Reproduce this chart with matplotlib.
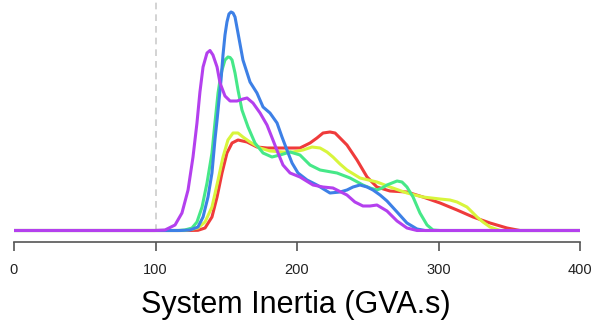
import numpy as np
import matplotlib
matplotlib.use("Agg")
import matplotlib.pyplot as plt

plt.rcParams['font.family'] = ['Liberation Sans', 'DejaVu Sans']

# density curves, x in GVA.s, y in units of 1e-3
x_red = [0, 123.0, 130.0, 135.0, 139.9, 143.5, 147.0, 150.5, 154.1, 158.3, 164.7, 171.7, 178.8, 190.1,
         202.1, 209.2, 214.1, 218.4, 223.3, 226.9, 230.4, 235.3, 242.4, 249.5, 256.5, 265.7, 277.7,
         289.0, 301.1, 313.1, 324.4, 336.4, 348.4, 357.6, 400]
y_red = [0, 0, 0.02, 0.25, 1.35, 3.35, 5.75, 7.75, 8.75, 9.05, 8.85, 8.35, 8.25, 8.25, 8.25, 8.75,
         9.25, 9.75, 9.85, 9.75, 9.25, 8.55, 7.05, 5.35, 4.35, 3.95, 3.85, 3.35, 2.75, 2.05, 1.35,
         0.75, 0.25, 0, 0]

x_yel = [0, 120.8, 130.0, 135.0, 139.9, 144.2, 147.7, 151.2, 154.8, 158.3, 161.8, 166.8, 173.9, 180.9,
         190.1, 197.2, 204.2, 210.6, 216.3, 221.2, 225.4, 230.4, 235.3, 244.5, 256.5, 265.7, 277.7,
         289.0, 301.1, 308.1, 313.1, 317.3, 320.1, 323.7, 327.2, 331.4, 336.4, 343.5, 400]
y_yel = [0, 0, 0.25, 0.85, 2.35, 5.05, 7.35, 9.05, 9.75, 9.75, 9.35, 8.85, 8.25, 7.95, 7.85, 7.85,
         8.05, 8.35, 8.25, 7.85, 7.35, 6.65, 6.05, 5.25, 4.85, 4.35, 3.75, 3.35, 3.15, 3.05, 2.85,
         2.55, 2.35, 1.85, 1.35, 0.85, 0.35, 0, 0]

x_grn = [0, 115.9, 120.8, 125.8, 129.3, 132.9, 136.4, 139.9, 142.0, 144.2, 145.6, 147.0, 149.1, 151.2,
         152.7, 154.1, 156.2, 158.3, 161.1, 165.4, 170.3, 176.0, 182.3, 188.0, 195.1, 202.1, 209.2,
         216.3, 228.3, 237.5, 246.6, 251.6, 256.5, 260.1, 263.6, 270.7, 274.2, 277.7, 282.0, 286.9,
         291.9, 296.1, 301.1, 400]
y_grn = [0, 0, 0.05, 0.25, 0.85, 2.35, 4.75, 7.75, 10.75, 13.75, 15.05, 16.05, 17.05, 17.35, 17.3,
         17.05, 15.75, 14.05, 12.05, 10.35, 8.75, 7.75, 7.35, 7.55, 7.85, 7.55, 6.55, 6.05, 5.75,
         5.25, 4.55, 4.25, 4.05, 4.25, 4.55, 4.95, 4.85, 4.35, 3.35, 1.75, 0.55, 0.05, 0, 0]

x_blu = [0, 117.3, 124.4, 130.0, 133.6, 137.1, 139.9, 142.0, 143.5, 144.9, 146.3, 147.7, 149.1, 150.5,
         151.9, 153.4, 154.8, 156.2, 158.3, 161.8, 166.8, 171.7, 176.0, 180.9, 185.9, 189.4, 192.9,
         196.5, 200.7, 207.1, 214.1, 223.3, 230.4, 235.3, 239.6, 244.5, 249.5, 253.7, 258.7, 263.6,
         270.7, 277.7, 284.8, 290.5, 400]
y_blu = [0, 0, 0.05, 0.35, 1.35, 3.35, 5.75, 9.05, 11.05, 13.05, 15.05, 17.55, 19.55, 20.85, 21.65,
         21.85, 21.75, 21.35, 19.75, 17.05, 14.85, 13.75, 12.35, 11.75, 10.75, 9.35, 8.05, 6.75, 5.75,
         5.05, 4.55, 3.75, 3.85, 4.05, 4.35, 4.55, 4.35, 4.05, 3.55, 2.95, 1.85, 0.75, 0.15, 0, 0]

x_pur = [0, 99.6, 106.7, 113.8, 118.7, 123.0, 126.5, 129.3, 131.4, 133.6, 136.4, 138.5, 140.6, 143.5,
         145.6, 149.1, 152.7, 157.6, 161.8, 164.7, 168.9, 173.9, 178.8, 183.0, 186.6, 190.1, 195.1,
         202.1, 211.3, 218.4, 225.4, 235.3, 240.9, 246.6, 251.6, 256.5, 263.6, 270.7, 277.7, 284.8, 400]
y_pur = [0, 0, 0.05, 0.55, 1.75, 4.05, 7.35, 10.75, 13.85, 16.35, 17.75, 18.0, 17.55, 16.35, 14.75,
         13.45, 12.95, 12.95, 13.15, 13.25, 12.75, 11.75, 10.55, 9.05, 7.75, 6.55, 5.75, 5.35, 4.55,
         4.35, 4.25, 3.55, 2.85, 2.45, 2.45, 2.55, 1.95, 0.95, 0.25, 0, 0]

xticks = [0, 100, 200, 300, 400]
ref_line = 100

fig = plt.figure(figsize=(5.92, 3.26), dpi=100)
ax = fig.add_axes([14 / 592, 84 / 326, 566 / 592, 242 / 326])

ax.axvline(ref_line, ymin=0.047, ymax=1, color='#cccccc', lw=1.2, ls=(0, (4, 3)))

curves = [(x_red, y_red, '#ef3b3b'),
          (x_yel, y_yel, '#d8f53c'),
          (x_grn, y_grn, '#46e888'),
          (x_blu, y_blu, '#3d80e6'),
          (x_pur, y_pur, '#b440ee')]
for xs, ys, c in curves:
    ax.plot(xs, np.array(ys) * 1e-3, color=c, lw=2.2, solid_joinstyle='round', solid_capstyle='round')

ax.set_xlim(0, 400)
ax.set_ylim(-0.00115, 0.02305)
for s in ['top', 'left', 'right']:
    ax.spines[s].set_visible(False)
ax.spines['bottom'].set_color('#555555')
ax.spines['bottom'].set_linewidth(1.2)
ax.set_yticks([])
ax.set_xticks(xticks)
ax.tick_params(axis='x', direction='out', length=6.5, width=1.2, color='#555555',
               labelsize=10.5, labelcolor='#222222', pad=8.5)

fig.text(0.5, (326 - 313) / 326, 'System Inertia (GVA.s)', ha='center', va='baseline', fontsize=22)

fig.savefig('out.png', dpi=100)
